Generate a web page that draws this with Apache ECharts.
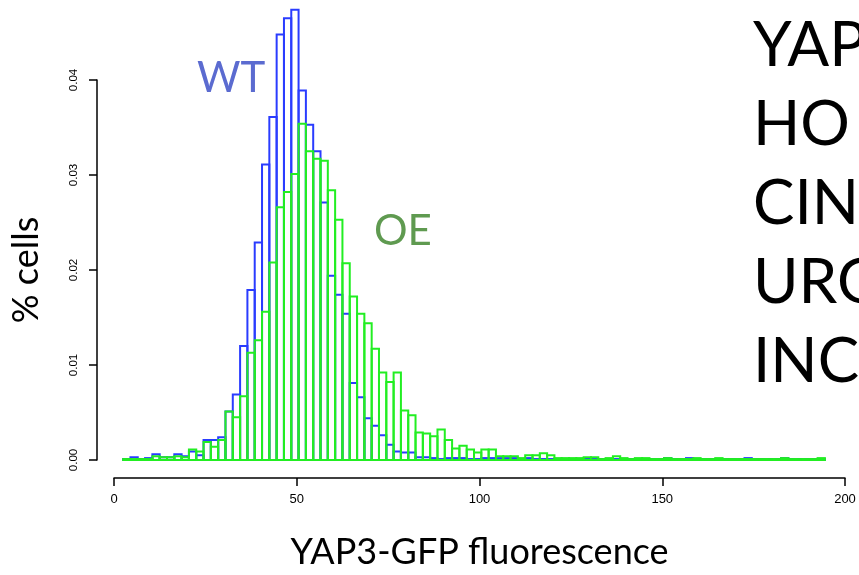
<!DOCTYPE html>
<html>
<head>
<meta charset="utf-8">
<script src="https://cdn.jsdelivr.net/npm/echarts/dist/echarts.min.js"></script>
<style>
  html, body { margin: 0; padding: 0; background: #fff; }
  #chart { width: 859px; height: 575px; }
</style>
</head>
<body>
<div id="chart"></div>
<script>
// histogram bins: width 2, first bin starts at 2.5
var BIN_START = 2.5;
var BIN_WIDTH = 2;

var xTicks = [0, 50, 100, 150, 200];
var yTicks = ['0.00', '0.01', '0.02', '0.03', '0.04'];

// WT (blue)
var wt = [
  0.0001, 0.0003, 0.0001, 0.0002, 0.0006, 0.0003, 0.0003, 0.0006, 0.0004, 0.0009,
  0.0005, 0.0021, 0.0021, 0.0024, 0.0051, 0.0069, 0.0120, 0.0179, 0.0229, 0.0311,
  0.0361, 0.0448, 0.0465, 0.0474, 0.0389, 0.0353, 0.0325, 0.0271, 0.0194, 0.0174,
  0.0154, 0.0081, 0.0066, 0.0044, 0.0036, 0.0026, 0.0016, 0.0009, 0.0008, 0.0008,
  0.0003, 0.0003, 0.0002, 0.0001, 0.0002, 0.0002, 0.0002, 0.0001, 0.0001, 0.0002,
  0.0002, 0.0002, 0.0002, 0.0002, 0.0001, 0.0002, 0.0001, 0.0001, 0.0001, 0.0001,
  0.0001, 0.0001, 0.0001, 0.0002, 0.0001, 0.0001, 0.0001, 0.0001, 0.0001, 0.0001,
  0.0001, 0.0001, 0.0001, 0.0001, 0.0002, 0.0001, 0.0001, 0.0002, 0.0001, 0.0001,
  0.0001, 0.0001, 0.0001, 0.0001, 0.0001, 0.0002, 0.0001, 0.0001, 0.0001, 0.0001,
  0.0002, 0.0001, 0.0001, 0.0001, 0.0001, 0.0001
];

// OE (green)
var oe = [
  0.0001, 0.0001, 0.0001, 0.0001, 0.0004, 0.0003, 0.0003, 0.0004, 0.0003, 0.0011,
  0.0009, 0.0019, 0.0014, 0.0021, 0.0051, 0.0045, 0.0067, 0.0113, 0.0126, 0.0156,
  0.0208, 0.0266, 0.0282, 0.0301, 0.0354, 0.0325, 0.0317, 0.0315, 0.0284, 0.0253,
  0.0207, 0.0172, 0.0154, 0.0144, 0.0117, 0.0092, 0.0082, 0.0092, 0.0052, 0.0047,
  0.0029, 0.0028, 0.0025, 0.0032, 0.0021, 0.0012, 0.0015, 0.0011, 0.0008, 0.0011,
  0.0011, 0.0004, 0.0004, 0.0004, 0.0002, 0.0005, 0.0005, 0.0007, 0.0005, 0.0002,
  0.0002, 0.0002, 0.0002, 0.0003, 0.0003, 0.0001, 0.0002, 0.0004, 0.0002, 0.0001,
  0.0002, 0.0002, 0.0001, 0.0001, 0.0002, 0.0001, 0.0001, 0.0001, 0.0002, 0.0001,
  0.0001, 0.0002, 0.0001, 0.0001, 0.0001, 0.0001, 0.0001, 0.0001, 0.0001, 0.0001,
  0.0002, 0.0001, 0.0001, 0.0001, 0.0001, 0.0002
];

var sideText = ['YAP', 'HO', 'CIN', 'URG', 'INC'];

function toBins(vals) {
  return vals.map(function (v, i) { return [BIN_START + i * BIN_WIDTH, v]; });
}

// outlined bar, like R's hist(border=..., col=NA)
function histItem(color) {
  return function (params, api) {
    var left = api.value(0), h = api.value(1);
    var p0 = api.coord([left, 0]);
    var p1 = api.coord([left + BIN_WIDTH, h]);
    return {
      type: 'rect',
      shape: { x: p0[0], y: p1[1], width: p1[0] - p0[0], height: p0[1] - p1[1] },
      style: { fill: 'none', stroke: color, lineWidth: 2 }
    };
  };
}

var myChart = echarts.init(document.getElementById('chart'));

var sideGraphics = sideText.map(function (t, i) {
  return {
    type: 'text',
    x: 753,
    y: 46 + i * 79,
    style: {
      text: t,
      font: '62px Lato',
      fill: '#000',
      textVerticalAlign: 'middle'
    }
  };
});

var options = {
  animation: false,
  backgroundColor: '#fff',
  grid: { left: 114, right: 14, top: 80, bottom: 114 },
  xAxis: {
    type: 'value',
    min: 0,
    max: 200,
    interval: 50,
    offset: 18,
    splitLine: { show: false },
    axisLine: { onZero: false, lineStyle: { color: '#000', width: 1.5 } },
    axisTick: { length: 8, lineStyle: { color: '#000', width: 1.5 } },
    axisLabel: {
      color: '#000', fontSize: 13, fontFamily: 'Liberation Sans', margin: 15,
      formatter: function (v) { return xTicks.indexOf(v) >= 0 ? String(v) : ''; }
    },
    name: 'YAP3-GFP fluorescence',
    nameLocation: 'middle',
    nameGap: 56,
    nameTextStyle: { fontFamily: 'Lato', fontSize: 36, color: '#000', verticalAlign: 'top' }
  },
  yAxis: {
    type: 'value',
    min: 0,
    max: 0.04,
    interval: 0.01,
    offset: 17,
    splitLine: { show: false },
    axisLine: { show: true, onZero: false, lineStyle: { color: '#000', width: 1.5 } },
    axisTick: { show: true, length: 8, lineStyle: { color: '#000', width: 1.5 } },
    axisLabel: {
      color: '#000', fontSize: 11.5, fontFamily: 'Liberation Sans', rotate: 90, margin: 17,
      formatter: function (v) { return yTicks[Math.round(v * 100)]; }
    },
    name: '% cells',
    nameLocation: 'middle',
    nameGap: 53,
    nameTextStyle: { fontFamily: 'Lato', fontSize: 36, color: '#000' }
  },
  graphic: [
    {
      type: 'text', x: 197, y: 78,
      style: { text: 'WT', font: '42px Lato', fill: '#5b6bd0', textVerticalAlign: 'middle' }
    },
    {
      type: 'text', x: 374, y: 231,
      style: { text: 'OE', font: '42px Lato', fill: '#5f9a50', textVerticalAlign: 'middle' }
    }
  ].concat(sideGraphics),
  series: [
    {
      name: 'WT',
      type: 'custom',
      clip: false,
      renderItem: histItem('#2a3cff'),
      data: toBins(wt)
    },
    {
      name: 'OE',
      type: 'custom',
      clip: false,
      renderItem: histItem('#22ee22'),
      data: toBins(oe)
    }
  ]
};

myChart.setOption(options);
</script>
</body>
</html>
